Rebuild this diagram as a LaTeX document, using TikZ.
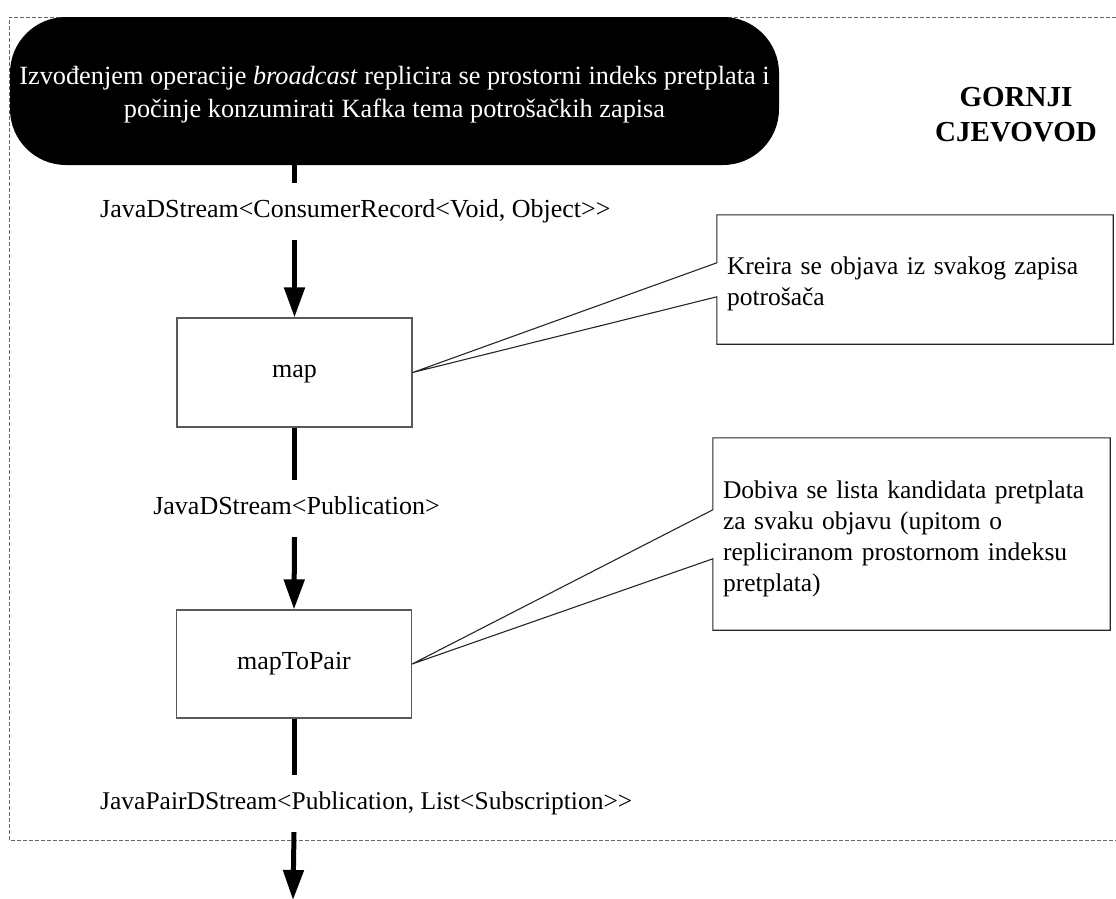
\documentclass[tikz,border=0pt]{standalone}
\usepackage{fontspec}
\setmainfont{Liberation Serif}
\usetikzlibrary{arrows.meta}
\begin{document}
\begin{tikzpicture}[x=1pt,y=-1pt,
  txt/.style={font=\fontsize{26pt}{31pt}\selectfont},
  opbox/.style={draw=black!65, line width=1.2pt, minimum width=235pt, minimum height=109pt, inner sep=0pt, txt, text height=1.3em, text depth=0.22em},
  flow/.style={line width=5pt},
  flowarrow/.style={line width=5pt, -{Triangle[width=20pt,length=30pt]}},
  lbl/.style={txt, inner sep=0pt, minimum height=57pt, text height=1.2em, text depth=0.05em},
  note/.style={font=\fontsize{25.5pt}{31pt}\selectfont, align=left, inner xsep=10pt, inner ysep=0pt},
  noteline/.style={draw=black!85, line width=1.1pt, line join=miter},
  frame/.style={draw=black!60, line width=1pt, dash pattern=on 4pt off 2pt}]

\useasboundingbox (0,0) rectangle (1116,898);
\draw[frame] (1116,17) -- (9,17) -- (9,840) -- (1116,840);

\node[fill=black, rounded corners=56pt, minimum width=769pt, minimum height=148pt,
      text=white, align=center, font=\fontsize{26.3pt}{33pt}\selectfont] (start) at (394.5,91)
  {\rule{0pt}{26pt}Izvođenjem operacije \textit{broadcast} replicira se prostorni indeks pretplata i\\počinje konzumirati Kafka tema potrošačkih zapisa};

\node[font=\bfseries\fontsize{29pt}{35pt}\selectfont, align=center] (title) at (1016,114.5) {GORNJI\\CJEVOVOD};

\node[opbox] (map) at (294.5,372.5) {map};
\node[opbox, minimum height=108pt] (pair) at (294,664) {mapToPair};

\node[lbl, anchor=west] (lab1) at (100,211.5) {JavaDStream<ConsumerRecord<Void, Object>{}>};
\node[lbl] (lab2) at (296.5,508.5) {JavaDStream<Publication>};
\node[lbl, anchor=west, font=\fontsize{25.5pt}{31pt}\selectfont] (lab3) at (100,803.5) {JavaPairDStream<Publication, List<Subscription>{}>};

\node[note, minimum width=396pt, minimum height=129pt, text width=376pt] (c1) at (915,279.5)
  {\rule{0pt}{27pt}Kreira se objava iz svakog zapisa\\potrošača};
\node[note, minimum width=397pt, minimum height=192pt, text width=377pt] (c2) at (911.5,534)
  {\rule{0pt}{27pt}Dobiva se lista kandidata pretplata\\za svaku objavu (upitom o\\repliciranom prostornom indeksu\\pretplata)};

\draw[noteline] ([yshift=-48pt]c1.north west) -- (c1.north west) -- (c1.north east) -- (c1.south east)
  -- (c1.south west) -- ([yshift=-82pt]c1.north west) -- (map.east) -- cycle;
\draw[noteline] ([yshift=-72pt]c2.north west) -- (c2.north west) -- (c2.north east) -- (c2.south east)
  -- (c2.south west) -- ([yshift=-121pt]c2.north west) -- (pair.east) -- cycle;

\coordinate (endpt) at (293,900);
\draw[flow] (start.south -| map.north) -- (map.north |- lab1.north);
\draw[flowarrow] (map.north |- lab1.south) -- (map.north);
\draw[flow] (map.south) -- (map.south |- lab2.north);
\draw[flowarrow] (map.south |- lab2.south) -- (pair.north);
\draw[flow] (pair.south) -- (pair.south |- lab3.north);
\draw[flowarrow] (pair.south |- lab3.south) -- (endpt);
\end{tikzpicture}
\end{document}
